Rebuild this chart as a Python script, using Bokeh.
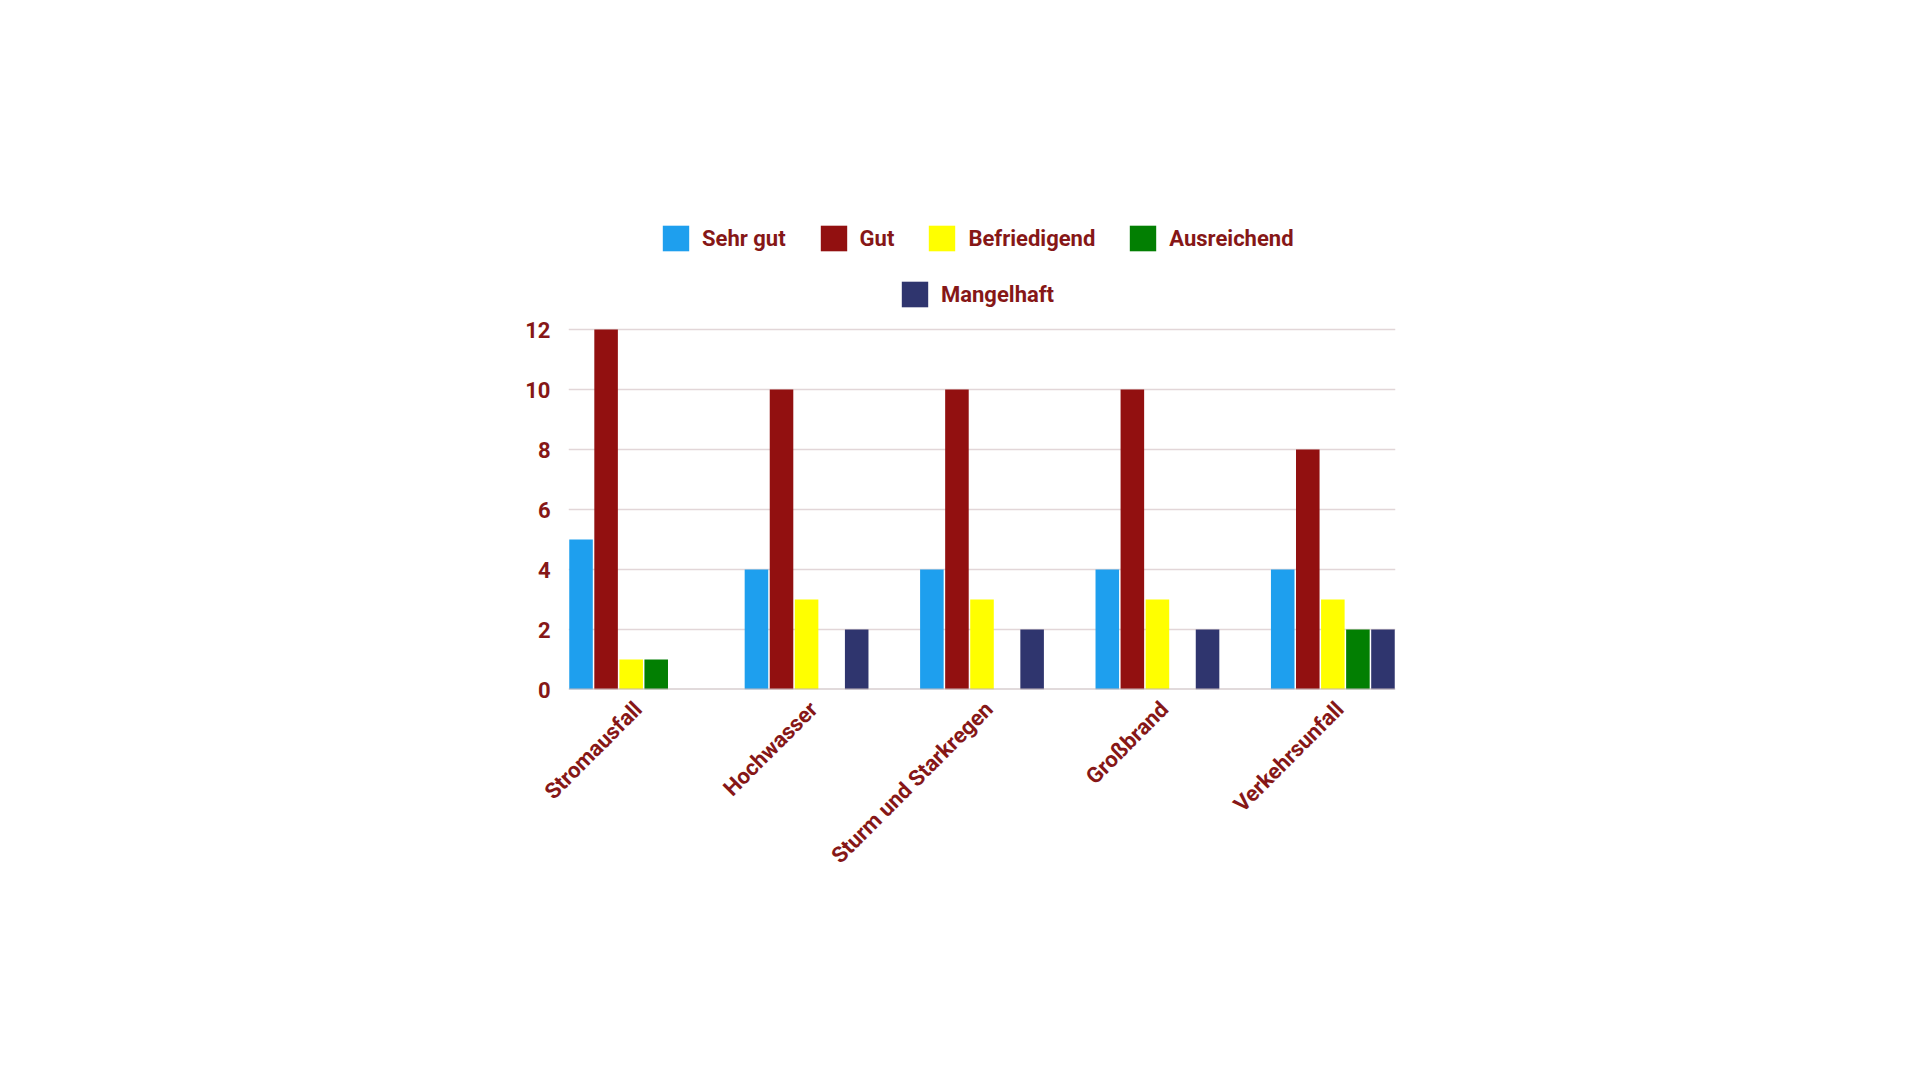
import numpy as np
from math import pi
from bokeh.plotting import figure
from bokeh.models import (ColumnDataSource, Range1d, FixedTicker, Legend, LegendItem, Span)
from bokeh.transform import dodge
from bokeh.embed import file_html
from bokeh.resources import INLINE

categories = ["Stromausfall", "Hochwasser", "Sturm und Starkregen", "Großbrand", "Verkehrsunfall"]
series = ["Sehr gut", "Gut", "Befriedigend", "Ausreichend", "Mangelhaft"]
sehr_gut = [5, 4, 4, 4, 4]
gut = [12, 10, 10, 10, 8]
befriedigend = [1, 3, 3, 3, 3]
ausreichend = [1, 0, 0, 0, 2]
mangelhaft = [0, 2, 2, 2, 2]
colors = ["#1E9FEE", "#921010", "#FFFF00", "#027F02", "#2F356E"]
y_ticks = [0, 2, 4, 6, 8, 10, 12]

TEXT = "#861717"
FONT = "Roboto"

slot = 1.0 / 7.0
src = ColumnDataSource(dict(
    x=list(range(len(categories))),
    s0=sehr_gut, s1=gut, s2=befriedigend, s3=ausreichend, s4=mangelhaft,
))

# frame extends above the value area to host the legend rows
p = figure(frame_width=827, frame_height=480, output_backend="svg", toolbar_location=None,
           x_range=Range1d(-2.5 * slot, len(categories) - 1 + 2.5 * slot),
           y_range=Range1d(0, 16),
           min_border_left=568, min_border_right=509, min_border_top=209, min_border_bottom=375)
p.outline_line_color = None
p.background_fill_color = "white"
p.border_fill_color = "white"

renderers = []
for j, key in enumerate(["s0", "s1", "s2", "s3", "s4"]):
    r = p.vbar(x=dodge("x", (j - 2) * slot, range=p.x_range), top=key, width=slot * 0.94,
               bottom=0, source=src, fill_color=colors[j], line_color=None)
    renderers.append(r)

p.add_layout(Span(location=0, dimension="width", line_color="#C4B6B8", line_width=2))

# axes
p.xaxis.ticker = FixedTicker(ticks=[i + 0.04 for i in range(len(categories))])
p.xaxis.major_label_overrides = {i + 0.04: c for i, c in enumerate(categories)}
p.xaxis.major_label_orientation = pi / 4
p.yaxis.ticker = FixedTicker(ticks=y_ticks)
for ax in (p.xaxis, p.yaxis):
    ax.axis_line_color = None
    ax.major_tick_line_color = None
    ax.minor_tick_line_color = None
    ax.major_label_text_font = FONT
    ax.major_label_text_font_style = "bold"
    ax.major_label_text_font_size = "22px"
    ax.major_label_text_color = TEXT
p.yaxis.major_label_standoff = 12
p.xaxis.major_label_standoff = 10

p.xgrid.grid_line_color = None
p.ygrid.grid_line_color = "#E2D6D8"
p.ygrid.grid_line_width = 1.5

def make_legend(idx, loc):
    lg = Legend(items=[LegendItem(label=series[i], renderers=[renderers[i]]) for i in idx],
                orientation="horizontal", location=loc,
                label_text_font=FONT, label_text_font_style="bold",
                label_text_font_size="22px", label_text_color=TEXT,
                glyph_width=33, glyph_height=32, label_standoff=10, spacing=31,
                border_line_color=None, background_fill_alpha=0,
                padding=0, margin=0)
    return lg

p.add_layout(make_legend([0, 1, 2, 3], (91, 435)), "center")
p.add_layout(make_legend([4], (330, 379)), "center")

open("out.html", "w").write(file_html(p, INLINE))
